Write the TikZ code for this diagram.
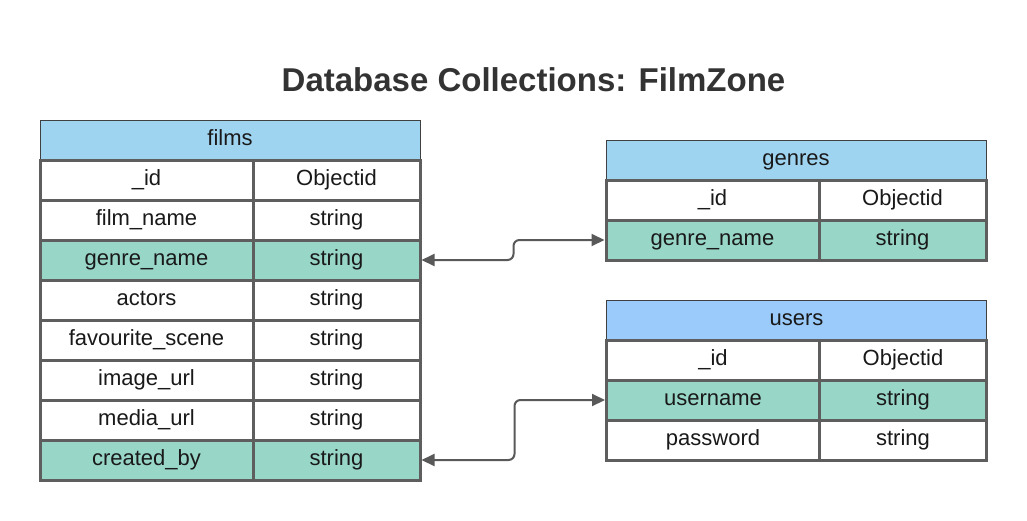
\documentclass[tikz,border=0pt]{standalone}
\usepackage{fontspec}
\setmainfont{Liberation Sans}
\usetikzlibrary{arrows.meta}

\definecolor{headblue}{HTML}{9FD4F1}
\definecolor{userblue}{HTML}{9ACBFB}
\definecolor{keyteal}{HTML}{98D6C8}
\definecolor{cellgray}{HTML}{5E5E5E}
\definecolor{linkgray}{HTML}{595959}
\definecolor{titlegray}{HTML}{333333}

\tikzset{
  tablehead/.style={draw=black!75, line width=0.8pt, fill=headblue, minimum width=380pt, minimum height=40pt, inner sep=0pt, text height=16pt, text depth=5pt},
  namecell/.style={draw=cellgray, line width=3pt, fill=white, minimum width=213pt, minimum height=40pt, inner sep=0pt, text height=16pt, text depth=5pt},
  typecell/.style={draw=cellgray, line width=3pt, fill=white, minimum width=167pt, minimum height=40pt, inner sep=0pt, text height=16pt, text depth=5pt},
  keyfill/.style={fill=keyteal},
  link/.style={draw=linkgray, line width=2pt, rounded corners=6pt, {Triangle[length=13pt,width=12pt]}-{Triangle[length=13pt,width=12pt]}}
}

\begin{document}
\begin{tikzpicture}[x=1pt, y=-1pt, font=\fontsize{22}{26}\selectfont, text=black!90]
\useasboundingbox (0,0) rectangle (1027,520);

\node[font=\fontsize{33}{38}\selectfont\bfseries, text=titlegray] (title) at (533.5, 80) {Database Collections: FilmZone};

% films
\node[tablehead] (films) at (230, 140) {films};
\node[namecell] (fid) at (146.5, 180) {\_id};
\node[typecell] (fidt) at (336.5, 180) {Objectid};
\node[namecell] (fname) at (146.5, 220) {film\_name};
\node[typecell] (fnamet) at (336.5, 220) {string};
\node[namecell, keyfill] (fgenre) at (146.5, 260) {genre\_name};
\node[typecell, keyfill] (fgenret) at (336.5, 260) {string};
\node[namecell] (factors) at (146.5, 300) {actors};
\node[typecell] (factorst) at (336.5, 300) {string};
\node[namecell] (fscene) at (146.5, 340) {favourite\_scene};
\node[typecell] (fscenet) at (336.5, 340) {string};
\node[namecell] (fimage) at (146.5, 380) {image\_url};
\node[typecell] (fimaget) at (336.5, 380) {string};
\node[namecell] (fmedia) at (146.5, 420) {media\_url};
\node[typecell] (fmediat) at (336.5, 420) {string};
\node[namecell, keyfill] (fby) at (146.5, 460) {created\_by};
\node[typecell, keyfill] (fbyt) at (336.5, 460) {string};

% genres
\node[tablehead] (genres) at (796, 160) {genres};
\node[namecell] (gid) at (712.5, 200) {\_id};
\node[typecell] (gidt) at (902.5, 200) {Objectid};
\node[namecell, keyfill] (ggenre) at (712.5, 240) {genre\_name};
\node[typecell, keyfill] (ggenret) at (902.5, 240) {string};

% users
\node[tablehead, fill=userblue] (users) at (796.5, 320) {users};
\node[namecell] (uid) at (713, 360) {\_id};
\node[typecell] (uidt) at (903, 360) {Objectid};
\node[namecell, keyfill] (uname) at (713, 400) {username};
\node[typecell, keyfill] (unamet) at (903, 400) {string};
\node[namecell] (upass) at (713, 440) {password};
\node[typecell] (upasst) at (903, 440) {string};

% references
\draw[link] (fgenret.east) -- ++(92,0) |- (ggenre.west);
\draw[link] (fbyt.east) -- ++(93,0) |- (uname.west);
\end{tikzpicture}
\end{document}
